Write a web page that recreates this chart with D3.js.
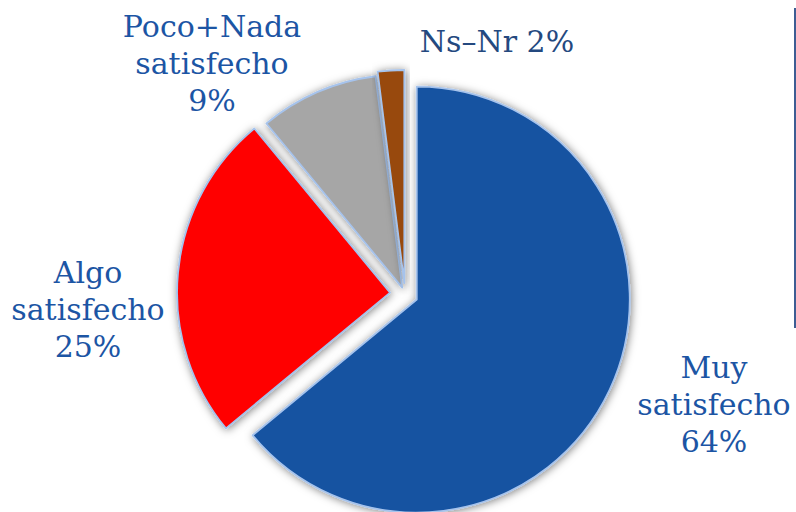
<!DOCTYPE html>
<html>
<head>
<meta charset="utf-8">
<script src="https://cdn.jsdelivr.net/npm/d3@7"></script>
<style>
  body { margin: 0; background: #fff; }
  .label { font-family: "DejaVu Serif", serif; font-size: 30px; fill: #1c55a4; }
  .label.dark { fill: #24497f; }
  .slice { stroke: #a6c3ec; stroke-width: 1.8; stroke-linejoin: round; }
</style>
</head>
<body>
<svg id="chart"></svg>
<script>
// data (percent)
const categories = ['Muy satisfecho', 'Algo satisfecho', 'Poco+Nada satisfecho', 'Ns–Nr'];
const values = [64, 25, 9, 2];
const labelLines = [
  ['Muy', 'satisfecho', '64%'],
  ['Algo', 'satisfecho', '25%'],
  ['Poco+Nada', 'satisfecho', '9%'],
  ['Ns–Nr 2%']
];
const colors = ['#1552a1', '#ff0000', '#a6a6a6', '#984807'];

// layout
const width = 796, height = 512;
const cx = 405, cy = 294, radius = 213;
const explode = [13, 15, 7, 11];
const labelPos = [[714, 378], [88, 283], [212, 37], [497, 52]];
const lineGap = 37;

const svg = d3.select('#chart')
    .attr('width', width)
    .attr('height', height);

const defs = svg.append('defs');
defs.append('filter')
    .attr('id', 'shadow')
    .attr('x', '-20%').attr('y', '-20%')
    .attr('width', '140%').attr('height', '140%')
  .append('feDropShadow')
    .attr('dx', 1).attr('dy', 1)
    .attr('stdDeviation', 4)
    .attr('flood-color', '#000')
    .attr('flood-opacity', 0.5);

const pie = d3.pie().sort(null).value(d => d);
const arc = d3.arc().innerRadius(0).outerRadius(radius);
const arcs = pie(values);

const g = svg.append('g')
    .attr('transform', `translate(${cx},${cy})`);

g.selectAll('.slice')
    .data(arcs)
  .enter().append('path')
    .attr('class', 'slice')
    .attr('filter', 'url(#shadow)')
    .attr('fill', (d, i) => colors[i])
    .attr('transform', (d, i) => {
      const a = (d.startAngle + d.endAngle) / 2;
      return `translate(${Math.sin(a) * explode[i]},${-Math.cos(a) * explode[i]})`;
    })
    .attr('d', arc);

// labels
const labels = svg.selectAll('.label')
    .data(categories)
  .enter().append('text')
    .attr('class', (d, i) => i === 3 ? 'label dark' : 'label')
    .attr('text-anchor', 'middle')
    .attr('x', (d, i) => labelPos[i][0])
    .attr('y', (d, i) => labelPos[i][1]);

labels.each(function(d, i) {
  d3.select(this).selectAll('tspan')
      .data(labelLines[i])
    .enter().append('tspan')
      .attr('x', labelPos[i][0])
      .attr('dy', (t, j) => j === 0 ? 0 : lineGap)
      .text(t => t);
});

// edge of the legend box at the right
svg.append('line')
    .attr('x1', 795).attr('x2', 795)
    .attr('y1', 8).attr('y2', 328)
    .attr('stroke', '#3d5d93')
    .attr('stroke-width', 2);
</script>
</body>
</html>
